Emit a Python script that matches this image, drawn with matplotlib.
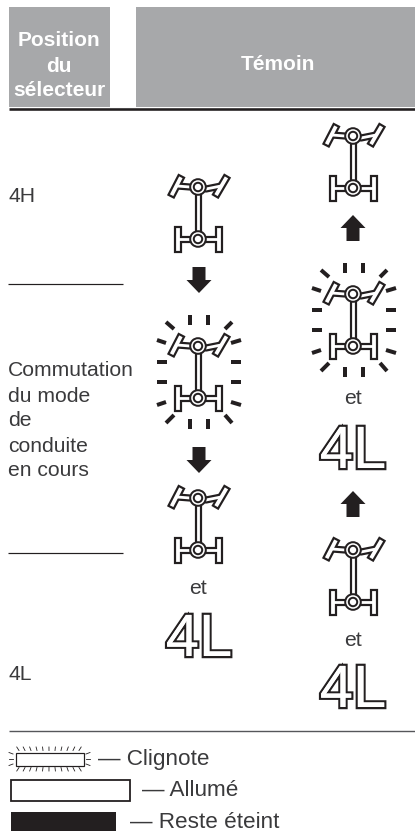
import matplotlib
matplotlib.use("Agg")
import matplotlib.pyplot as plt
from matplotlib.patches import Circle, Polygon, Rectangle
import matplotlib.patheffects as pe

plt.rcParams["font.family"] = ["Liberation Sans", "DejaVu Sans"]

HEADER = "#a7a8aa"
INK = "#231f20"
PX = 0.72  # 1 px in points at dpi 100

header_left = ["Position", "du", "sélecteur"]
header_right = "Témoin"
left_labels = ["4H", "Commutation", "du mode", "de", "conduite", "en cours", "4L"]
legend_labels = ["— Clignote", "— Allumé", "— Reste éteint"]

fig = plt.figure(figsize=(4.15, 8.31), dpi=100, facecolor="white")
ax = fig.add_axes([0, 0, 1, 1])
ax.set_xlim(0, 415); ax.set_ylim(831, 0); ax.axis("off")


def hline(y, x0, x1, lw, color=INK):
    ax.plot([x0, x1], [y, y], color=color, lw=lw * PX, solid_capstyle="butt")


def icon(cx, cy, blink=False):
    """Drive-mode lamp, drawn around its centre in px."""
    wheels = [
        [(-25.5, -19.5), (-18, -34)],
        [(19, -19.5), (27.5, -34)],
        [(-20.5, 17), (-20.5, 36)],
        [(20.5, 17), (20.5, 36)],
    ]
    links = [
        [(-21, -27), (-8, -26), (0, -26)],
        [(0, -26), (8, -24), (23, -27)],
        [(0, -26), (0, 26)],
        [(-20.5, 26), (20.5, 26)],
    ]
    for color, extra in ((INK, 4.4), ("white", 0)):
        for pts in wheels:
            xs = [cx + p[0] for p in pts]; ys = [cy + p[1] for p in pts]
            ax.plot(xs, ys, color=color, lw=(3.8 + extra) * PX, solid_capstyle="projecting")
        for pts in links:
            xs = [cx + p[0] for p in pts]; ys = [cy + p[1] for p in pts]
            ax.plot(xs, ys, color=color, lw=(2.8 + extra) * PX, solid_capstyle="butt",
                    solid_joinstyle="round")
    for hy in (-26, 26):
        for r, c in ((8.8, INK), (6.8, "white"), (5.2, INK), (3.2, "white")):
            ax.add_patch(Circle((cx, cy + hy), r, fc=c, ec="none", zorder=3))
    if blink:
        rays = [(-8, -57, -8, -47), (10, -57, 10, -47),
                (-32, -50, -24, -43), (34, -50, 27, -43),
                (-41, -32, -32, -29), (43, -32, 33, -29),
                (-41, -10, -31, -10), (33, -10, 43, -10),
                (-41, 10, -31, 10), (33, 10, 43, 10),
                (-41, 33, -32, 30), (43, 33, 33, 30),
                (-32, 51, -24, 43), (34, 51, 27, 43),
                (-8, 47, -8, 57), (10, 47, 10, 57)]
        for x0, y0, x1, y1 in rays:
            ax.plot([cx + x0, cx + x1], [cy + y0, cy + y1], color=INK, lw=4 * PX,
                    solid_capstyle="butt")


def arrow(cx, top, down=True):
    s = 1 if down else -1
    y0 = top if down else top + 26
    pts = [(-6.5, 0), (6.5, 0), (6.5, 13), (12.5, 13), (0, 26), (-12.5, 13), (-6.5, 13)]
    ax.add_patch(Polygon([(cx + x, y0 + s * y) for x, y in pts], fc=INK, ec="none"))


def label_4l(cx, base):
    ax.text(cx, base, "4L", fontsize=43, color="white", ha="center", va="baseline",
            path_effects=[pe.withStroke(linewidth=3.2, foreground=INK, joinstyle="miter"),
                          pe.Normal()])


def body(x, y, s, ha="left", size=15.2):
    ax.text(x, y, s, fontsize=size, color="#3a3a3c", ha=ha, va="center")


# ── Header ──
ax.add_patch(Rectangle((9, 7), 101, 100, fc=HEADER, ec="none"))
ax.add_patch(Rectangle((136, 7), 279, 100, fc=HEADER, ec="none"))
hline(108.5, 9, 415, 2.6)
for y, s in zip((41, 66, 91), header_left):
    ax.text(59, y, s, fontsize=15, fontweight="bold", color="white", ha="center", va="center")
ax.text(278, 65, header_right, fontsize=15, fontweight="bold", color="white",
        ha="center", va="center")

# ── Left column ──
for y, s in zip((197, 371, 396, 421, 446, 471, 675), left_labels):
    body(8, y, s)
hline(284, 8, 123, 1.2)
hline(553, 8, 123, 1.2)

# ── Left sequence ──
icon(198, 213)
arrow(199, 267)
icon(198, 372, blink=True)
arrow(199, 447)
icon(198, 524)
body(198, 589, "et", ha="center")
label_4l(199, 656)

# ── Right sequence ──
icon(353, 162)
arrow(353, 215, down=False)
icon(353, 320, blink=True)
body(353, 399, "et", ha="center")
label_4l(353, 468)
arrow(353, 491, down=False)
icon(353, 576)
body(353, 640, "et", ha="center")
label_4l(353, 707)

# ── Legend ──
hline(731, 9, 415, 1.4, color="#55565a")
ax.add_patch(Rectangle((15.5, 752.5), 68, 13, fc="white", ec=INK, lw=1.2 * PX))
for x in range(19, 83, 6):
    dx = (x - 49.5) / 34 * 2.5
    ax.plot([x + dx, x], [747, 750.5], color=INK, lw=0.6)
    ax.plot([x, x + dx], [767.5, 771], color=INK, lw=0.6)
for y, dy in ((754, -1.5), (759, 0), (764, 1.5)):
    ax.plot([9, 13], [y + dy, y], color=INK, lw=0.6)
    ax.plot([86, 90], [y, y + dy], color=INK, lw=0.6)
ax.add_patch(Rectangle((10.5, 779.5), 119, 21, fc="white", ec=INK, lw=1.8 * PX))
ax.add_patch(Rectangle((11, 812), 105, 19, fc=INK, ec="none"))
body(98, 759, legend_labels[0], size=16.2)
body(142, 791, legend_labels[1], size=16.2)
body(130, 822, legend_labels[2], size=16.2)

fig.savefig("out.png", dpi=100, facecolor="white")
